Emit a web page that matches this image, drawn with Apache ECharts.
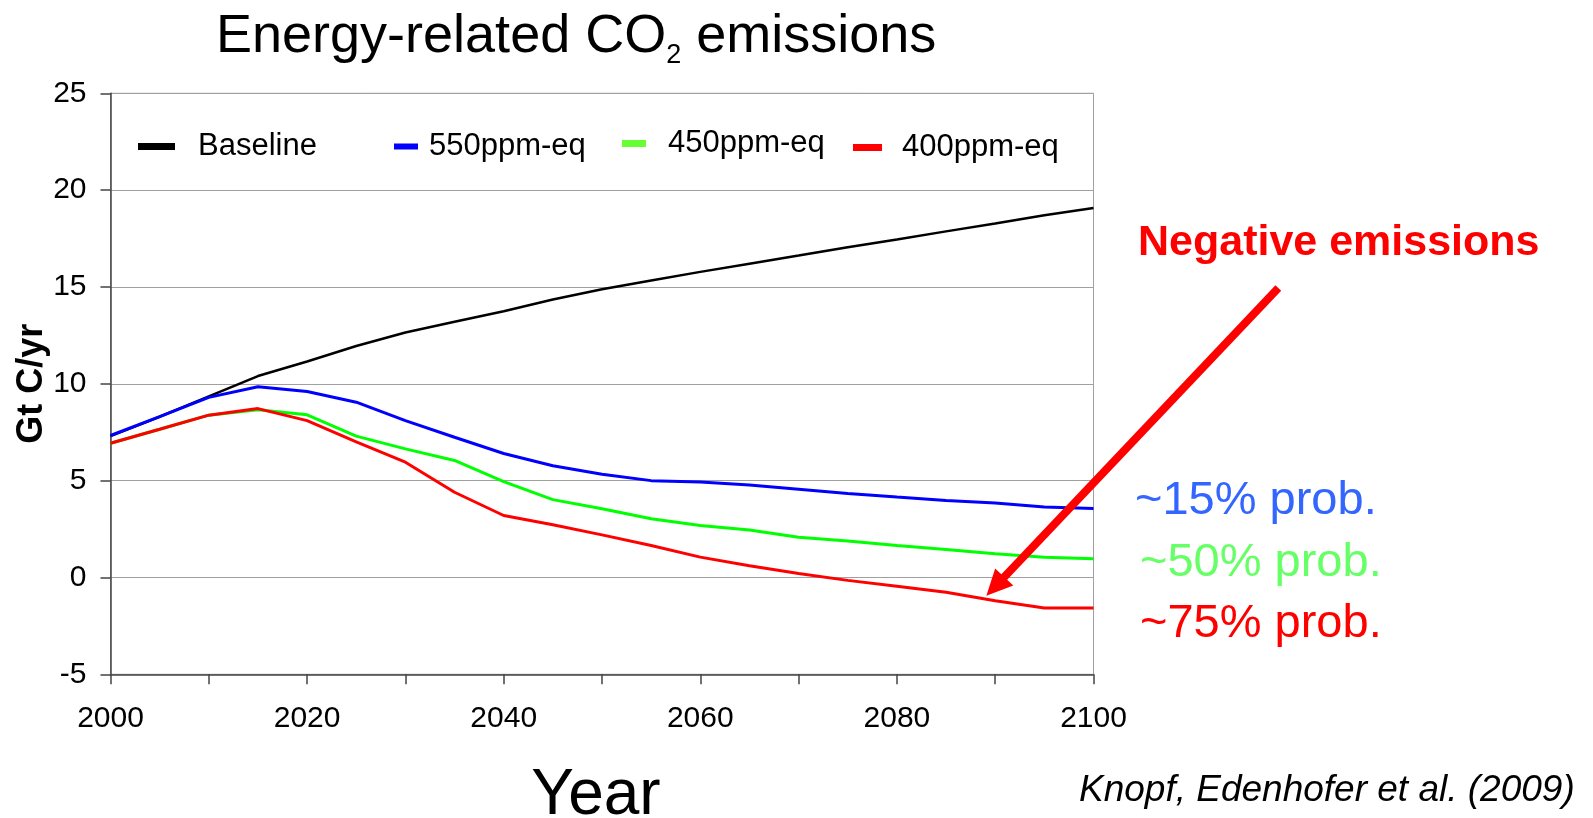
<!DOCTYPE html>
<html>
<head>
<meta charset="utf-8">
<script src="https://cdn.jsdelivr.net/npm/echarts@6/dist/echarts.min.js"></script>
<style>
html,body{margin:0;padding:0;background:#fff;}
#chart{width:1593px;height:818px;}
</style>
</head>
<body>
<div id="chart"></div>
<script>
// ---- data (Gt C / yr) ----
const years = [2000,2005,2010,2015,2020,2025,2030,2035,2040,2045,2050,2055,2060,2065,2070,2075,2080,2085,2090,2095,2100];
const baseline = [7.3,8.3,9.35,10.4,11.15,11.95,12.65,13.2,13.75,14.35,14.88,15.33,15.78,16.2,16.62,17.05,17.45,17.87,18.28,18.7,19.08];
const ppm550 = [7.33,8.3,9.3,9.85,9.6,9.05,8.1,7.24,6.4,5.77,5.33,5.0,4.93,4.77,4.55,4.33,4.15,3.98,3.84,3.64,3.56];
const ppm450 = [6.93,7.65,8.38,8.66,8.4,7.3,6.64,6.04,4.95,4.02,3.55,3.03,2.68,2.45,2.08,1.88,1.65,1.45,1.22,1.05,0.97];
const ppm400 = [6.93,7.65,8.38,8.72,8.1,7.0,5.95,4.4,3.2,2.72,2.2,1.65,1.05,0.6,0.2,-0.15,-0.45,-0.76,-1.2,-1.58,-1.58];
const seriesNames = ['Baseline','550ppm-eq','450ppm-eq','400ppm-eq'];
const yTicks = {min:-5, max:25, step:5};
const xTicks = {min:2000, max:2100, step:10, labelStep:20};
const probLabels = ['~15% prob.','~50% prob.','~75% prob.'];
const arrowFrom = [2118.8, 14.95];
const arrowTo = [2089.1, -0.95];

const FONT = '"Liberation Sans", Arial, sans-serif';
const pairs = arr => years.map((y,i)=>[y, arr[i]]);

const chart = echarts.init(document.getElementById('chart'), null, {renderer:'canvas'});

function mkLegend(name, left, top, w, h, gap, color){
  return {
    data:[{name:name, itemStyle:{color:color}}],
    left:left, top:top, padding:0, icon:'rect',
    itemWidth:w, itemHeight:h, selectedMode:false,
    textStyle:{fontFamily:FONT, fontSize:31, color:'#000', padding:[0,0,0,gap]}
  };
}

const option = {
  backgroundColor:'#fff',
  animation:false,
  title:{
    text:'{a|Energy-related CO}{s|2}{a| emissions}',
    left:216, top:5, padding:0,
    textStyle:{
      fontWeight:'normal',
      rich:{
        a:{fontFamily:FONT, fontSize:54, fontWeight:'normal', lineHeight:64, color:'#000', verticalAlign:'middle'},
        s:{fontFamily:FONT, fontSize:27, fontWeight:'normal', lineHeight:20, color:'#000', verticalAlign:'bottom'}
      }
    }
  },
  legend:[
    mkLegend(seriesNames[0], 138, 131, 37, 7, 18, '#000000'),
    mkLegend(seriesNames[1], 394, 131, 24, 6, 6, '#0000ff'),
    mkLegend(seriesNames[2], 622, 128, 24, 7, 17, '#66ff33'),
    mkLegend(seriesNames[3], 853, 132, 29, 7, 15, '#ff0000')
  ],
  grid:{left:110.5, right:499.5, top:93.3, bottom:143.7, outerBoundsMode:'none', containLabel:false,
        show:true, borderColor:'#a0a0a0', borderWidth:1, backgroundColor:'#fff'},
  xAxis:{
    type:'value', min:xTicks.min, max:xTicks.max, interval:xTicks.step,
    name:'Year', nameLocation:'middle', nameGap:90, nameMoveOverlap:false,
    nameTextStyle:{fontFamily:FONT, fontSize:64, color:'#000', padding:[0,12,0,0]},
    axisLine:{show:true, onZero:false, lineStyle:{color:'#444', width:1.5}},
    axisTick:{show:true, length:10, lineStyle:{color:'#444', width:1.5}},
    axisLabel:{fontFamily:FONT, fontSize:30, color:'#000', margin:29,
      formatter:v => (v % xTicks.labelStep === 0 ? String(v) : '')},
    splitLine:{show:false}
  },
  yAxis:{
    type:'value', min:yTicks.min, max:yTicks.max, interval:yTicks.step,
    name:'Gt C/yr', nameLocation:'middle', nameGap:60, nameRotate:90, nameMoveOverlap:false,
    nameTextStyle:{fontFamily:FONT, fontSize:36, fontWeight:'bold', color:'#000'},
    axisLine:{show:true, onZero:false, lineStyle:{color:'#444', width:1.5}},
    axisTick:{show:true, length:10, lineStyle:{color:'#444', width:1.5}},
    axisLabel:{fontFamily:FONT, fontSize:30, color:'#000', margin:24},
    splitLine:{show:true, lineStyle:{color:'#a0a0a0', width:1}}
  },
  series:[
    {name:seriesNames[0], type:'line', data:pairs(baseline), showSymbol:false, lineStyle:{color:'#000000', width:2.5}, itemStyle:{color:'#000000'}},
    {name:seriesNames[1], type:'line', data:pairs(ppm550), showSymbol:false, lineStyle:{color:'#0000ff', width:3}, itemStyle:{color:'#0000ff'}},
    {name:seriesNames[2], type:'line', data:pairs(ppm450), showSymbol:false, lineStyle:{color:'#00ff00', width:3}, itemStyle:{color:'#00ff00'}},
    {name:seriesNames[3], type:'line', data:pairs(ppm400), showSymbol:false, lineStyle:{color:'#ff0000', width:3}, itemStyle:{color:'#ff0000'}}
  ]
};
chart.setOption(option);

// annotations
const p0 = chart.convertToPixel({gridIndex:0}, arrowFrom);
const p1 = chart.convertToPixel({gridIndex:0}, arrowTo);
const dx = p1[0]-p0[0], dy = p1[1]-p0[1];
const len = Math.sqrt(dx*dx+dy*dy);
const ux = dx/len, uy = dy/len, px = -uy, py = ux;
const HL = 26, HW = 12.5;
const bx = p1[0]-ux*HL, by = p1[1]-uy*HL;

chart.setOption({
  graphic:[
    {type:'line', shape:{x1:p0[0], y1:p0[1], x2:bx+ux*2, y2:by+uy*2}, style:{stroke:'#ff0000', lineWidth:8, lineCap:'butt'}, z:100},
    {type:'polygon', shape:{points:[[p1[0],p1[1]],[bx+px*HW, by+py*HW],[bx-px*HW, by-py*HW]]}, style:{fill:'#ff0000'}, z:100},
    {type:'text', left:1138, top:222, style:{text:'Negative emissions', fill:'#ff0000', font:'bold 43px '+FONT}, z:100},
    {type:'text', left:1135, top:478, style:{text:probLabels[0], fill:'#3366ff', font:'47px '+FONT}, z:100},
    {type:'text', left:1140, top:540, style:{text:probLabels[1], fill:'#66ff66', font:'47px '+FONT}, z:100},
    {type:'text', left:1140, top:601, style:{text:probLabels[2], fill:'#ff0000', font:'47px '+FONT}, z:100},
    {type:'text', left:1079, top:772, style:{text:'Knopf, Edenhofer et al. (2009)', fill:'#000', font:'italic 37px '+FONT}, z:100}
  ]
});
</script>
</body>
</html>
